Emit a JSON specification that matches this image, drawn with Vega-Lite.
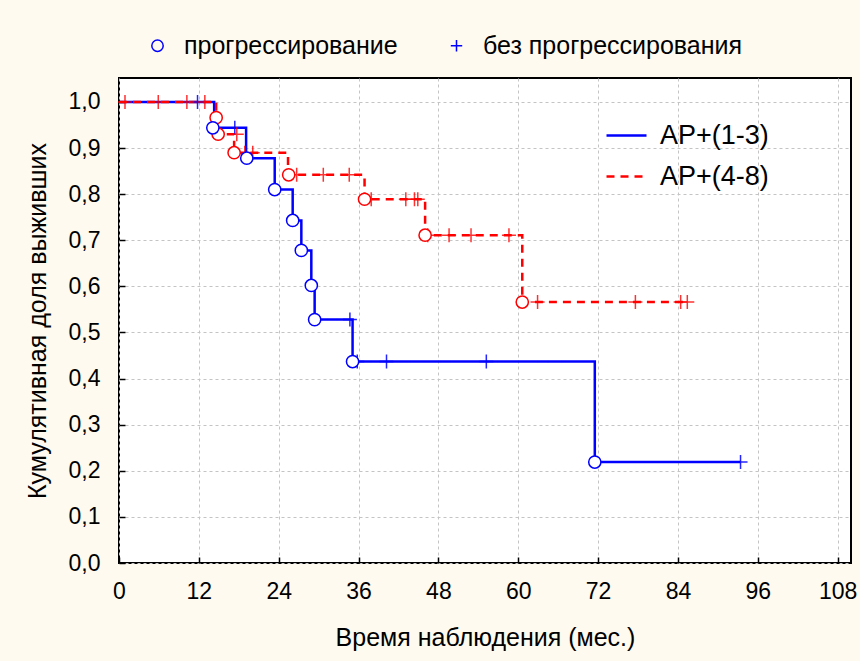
{
  "$schema": "https://vega.github.io/schema/vega-lite/v6.json",
  "width": 732,
  "height": 485,
  "autosize": {"type": "none"},
  "padding": {"left": 119, "top": 78, "right": 9, "bottom": 98},
  "background": "#fefaf0",
  "config": {
    "font": "Liberation Sans",
    "view": {"stroke": "black", "strokeWidth": 2, "fill": "white"},
    "axis": {
      "labelFont": "Liberation Sans",
      "titleFont": "Liberation Sans",
      "labelFontSize": 23,
      "titleFontSize": 25,
      "titleFontWeight": "normal",
      "labelColor": "black",
      "titleColor": "black",
      "domain": false,
      "tickColor": "black",
      "tickSize": -6,
      "tickWidth": 1.5,
      "gridColor": "#c4c4c4",
      "gridDash": [3, 3],
      "gridWidth": 1
    },
    "legend": {
      "labelFont": "Liberation Sans",
      "labelFontSize": 25,
      "labelColor": "black",
      "labelLimit": 500
    }
  },
  "datasets": {
    "curve": [
      {"series": "AP+(1-3)", "t": 0, "s": 1.0},
      {"series": "AP+(1-3)", "t": 14.3, "s": 0.944},
      {"series": "AP+(1-3)", "t": 19.1, "s": 0.878},
      {"series": "AP+(1-3)", "t": 23.4, "s": 0.81},
      {"series": "AP+(1-3)", "t": 26.1, "s": 0.743},
      {"series": "AP+(1-3)", "t": 27.4, "s": 0.678},
      {"series": "AP+(1-3)", "t": 28.9, "s": 0.602},
      {"series": "AP+(1-3)", "t": 29.4, "s": 0.528},
      {"series": "AP+(1-3)", "t": 35.1, "s": 0.437},
      {"series": "AP+(1-3)", "t": 71.5, "s": 0.219},
      {"series": "AP+(1-3)", "t": 93.4, "s": 0.219},
      {"series": "AP+(4-8)", "t": 0, "s": 1.0},
      {"series": "AP+(4-8)", "t": 14.6, "s": 0.966},
      {"series": "AP+(4-8)", "t": 14.9, "s": 0.93},
      {"series": "AP+(4-8)", "t": 17.3, "s": 0.89},
      {"series": "AP+(4-8)", "t": 25.4, "s": 0.842},
      {"series": "AP+(4-8)", "t": 36.9, "s": 0.789},
      {"series": "AP+(4-8)", "t": 46.0, "s": 0.711},
      {"series": "AP+(4-8)", "t": 60.6, "s": 0.566},
      {"series": "AP+(4-8)", "t": 85.4, "s": 0.566}
    ],
    "marks": [
      {"series": "AP+(1-3)", "kind": "прогрессирование", "t": 14.1, "s": 0.944},
      {"series": "AP+(1-3)", "kind": "прогрессирование", "t": 19.2, "s": 0.878},
      {"series": "AP+(1-3)", "kind": "прогрессирование", "t": 23.4, "s": 0.81},
      {"series": "AP+(1-3)", "kind": "прогрессирование", "t": 26.1, "s": 0.743},
      {"series": "AP+(1-3)", "kind": "прогрессирование", "t": 27.4, "s": 0.678},
      {"series": "AP+(1-3)", "kind": "прогрессирование", "t": 28.9, "s": 0.602},
      {"series": "AP+(1-3)", "kind": "прогрессирование", "t": 29.4, "s": 0.528},
      {"series": "AP+(1-3)", "kind": "прогрессирование", "t": 35.1, "s": 0.437},
      {"series": "AP+(1-3)", "kind": "прогрессирование", "t": 71.5, "s": 0.219},
      {"series": "AP+(1-3)", "kind": "без прогрессирования", "t": 11.8, "s": 1.0},
      {"series": "AP+(1-3)", "kind": "без прогрессирования", "t": 17.4, "s": 0.944},
      {"series": "AP+(1-3)", "kind": "без прогрессирования", "t": 34.7, "s": 0.528},
      {"series": "AP+(1-3)", "kind": "без прогрессирования", "t": 35.8, "s": 0.437},
      {"series": "AP+(1-3)", "kind": "без прогрессирования", "t": 40.2, "s": 0.437},
      {"series": "AP+(1-3)", "kind": "без прогрессирования", "t": 55.2, "s": 0.437},
      {"series": "AP+(1-3)", "kind": "без прогрессирования", "t": 93.4, "s": 0.219},
      {"series": "AP+(4-8)", "kind": "прогрессирование", "t": 14.6, "s": 0.966},
      {"series": "AP+(4-8)", "kind": "прогрессирование", "t": 14.9, "s": 0.93},
      {"series": "AP+(4-8)", "kind": "прогрессирование", "t": 17.3, "s": 0.89},
      {"series": "AP+(4-8)", "kind": "прогрессирование", "t": 25.5, "s": 0.842},
      {"series": "AP+(4-8)", "kind": "прогрессирование", "t": 36.9, "s": 0.789},
      {"series": "AP+(4-8)", "kind": "прогрессирование", "t": 46.0, "s": 0.711},
      {"series": "AP+(4-8)", "kind": "прогрессирование", "t": 60.6, "s": 0.566},
      {"series": "AP+(4-8)", "kind": "без прогрессирования", "t": 0.9, "s": 1.0},
      {"series": "AP+(4-8)", "kind": "без прогрессирования", "t": 5.9, "s": 1.0},
      {"series": "AP+(4-8)", "kind": "без прогрессирования", "t": 10.2, "s": 1.0},
      {"series": "AP+(4-8)", "kind": "без прогрессирования", "t": 12.9, "s": 1.0},
      {"series": "AP+(4-8)", "kind": "без прогрессирования", "t": 17.7, "s": 0.93},
      {"series": "AP+(4-8)", "kind": "без прогрессирования", "t": 18.9, "s": 0.89},
      {"series": "AP+(4-8)", "kind": "без прогрессирования", "t": 20.1, "s": 0.89},
      {"series": "AP+(4-8)", "kind": "без прогрессирования", "t": 26.7, "s": 0.842},
      {"series": "AP+(4-8)", "kind": "без прогрессирования", "t": 30.7, "s": 0.842},
      {"series": "AP+(4-8)", "kind": "без прогрессирования", "t": 34.6, "s": 0.842},
      {"series": "AP+(4-8)", "kind": "без прогрессирования", "t": 37.9, "s": 0.789},
      {"series": "AP+(4-8)", "kind": "без прогрессирования", "t": 43.1, "s": 0.789},
      {"series": "AP+(4-8)", "kind": "без прогрессирования", "t": 44.4, "s": 0.789},
      {"series": "AP+(4-8)", "kind": "без прогрессирования", "t": 44.9, "s": 0.789},
      {"series": "AP+(4-8)", "kind": "без прогрессирования", "t": 46.4, "s": 0.711},
      {"series": "AP+(4-8)", "kind": "без прогрессирования", "t": 49.6, "s": 0.711},
      {"series": "AP+(4-8)", "kind": "без прогрессирования", "t": 52.9, "s": 0.711},
      {"series": "AP+(4-8)", "kind": "без прогрессирования", "t": 58.6, "s": 0.711},
      {"series": "AP+(4-8)", "kind": "без прогрессирования", "t": 62.9, "s": 0.566},
      {"series": "AP+(4-8)", "kind": "без прогрессирования", "t": 77.6, "s": 0.566},
      {"series": "AP+(4-8)", "kind": "без прогрессирования", "t": 84.4, "s": 0.566},
      {"series": "AP+(4-8)", "kind": "без прогрессирования", "t": 85.4, "s": 0.566}
    ]
  },
  "encoding": {
    "x": {
      "field": "t",
      "type": "quantitative",
      "scale": {"domain": [0, 110], "nice": false, "zero": false},
      "axis": {
        "values": [0, 12, 24, 36, 48, 60, 72, 84, 96, 108],
        "title": "Время наблюдения (мес.)",
        "labelPadding": 23,
        "titlePadding": 22,
        "labelFlush": false
      }
    },
    "y": {
      "field": "s",
      "type": "quantitative",
      "scale": {"domain": [0, 1.052], "nice": false, "zero": false},
      "axis": {
        "values": [0, 0.1, 0.2, 0.3, 0.4, 0.5, 0.6, 0.7, 0.8, 0.9, 1.0],
        "labelExpr": "replace(format(datum.value, '.1f'), '.', ',')",
        "title": "Кумулятивная доля выживших",
        "labelPadding": 25,
        "titlePadding": 18,
        "labelFlush": false
      }
    }
  },
  "layer": [
    {
      "data": {"name": "curve"},
      "mark": {"type": "line", "interpolate": "step-after", "strokeWidth": 2.5},
      "encoding": {
        "color": {
          "field": "series",
          "type": "nominal",
          "scale": {"domain": ["AP+(1-3)", "AP+(4-8)"], "range": ["#0000ff", "#ff0000"]},
          "legend": {
            "title": null,
            "orient": "none",
            "legendX": 486,
            "legendY": 36,
            "symbolType": "stroke",
            "symbolSize": 1600,
            "symbolStrokeWidth": 2.5,
            "labelFontSize": 27,
            "labelOffset": 12,
            "rowPadding": 6
          }
        },
        "strokeDash": {
          "field": "series",
          "type": "nominal",
          "scale": {"domain": ["AP+(1-3)", "AP+(4-8)"], "range": [[1, 0], [8, 6]]},
          "legend": {
            "title": null,
            "orient": "none",
            "legendX": 486,
            "legendY": 36,
            "symbolType": "stroke",
            "symbolSize": 1600,
            "symbolStrokeWidth": 2.5,
            "labelFontSize": 27,
            "labelOffset": 12,
            "rowPadding": 6
          }
        }
      }
    },
    {
      "data": {"name": "marks"},
      "transform": [{"filter": "datum.kind == 'без прогрессирования' && datum.series == 'AP+(1-3)'"}],
      "mark": {"type": "point", "size": 196, "strokeWidth": 1.5, "opacity": 0.85, "filled": false, "color": "#0000ff"},
      "encoding": {
        "shape": {
          "field": "kind",
          "type": "nominal",
          "scale": {"domain": ["прогрессирование", "без прогрессирования"], "range": ["circle", "M-1,0L1,0M0,-1L0,1"]},
          "legend": {
            "title": null,
            "orient": "none",
            "direction": "horizontal",
            "legendX": 26,
            "legendY": -45,
            "symbolSize": 130,
            "symbolStrokeColor": "#0000ff",
            "symbolStrokeWidth": 1.5,
            "symbolOpacity": 1,
            "labelOffset": 14,
            "columnPadding": 46
          }
        }
      }
    },
    {
      "data": {"name": "marks"},
      "transform": [{"filter": "datum.kind == 'без прогрессирования' && datum.series == 'AP+(4-8)'"}],
      "mark": {"type": "point", "size": 196, "strokeWidth": 1.5, "opacity": 0.8, "filled": false, "color": "#ff0000"},
      "encoding": {
        "shape": {"field": "kind", "type": "nominal"}
      }
    },
    {
      "data": {"name": "marks"},
      "transform": [{"filter": "datum.kind == 'прогрессирование' && datum.series == 'AP+(4-8)'"}],
      "mark": {"type": "point", "size": 150, "strokeWidth": 1.5, "opacity": 1, "stroke": "#ff0000", "fill": "white"},
      "encoding": {
        "shape": {"field": "kind", "type": "nominal"}
      }
    },
    {
      "data": {"name": "marks"},
      "transform": [{"filter": "datum.kind == 'прогрессирование' && datum.series == 'AP+(1-3)'"}],
      "mark": {"type": "point", "size": 150, "strokeWidth": 1.5, "opacity": 1, "stroke": "#0000ff", "fill": "white"},
      "encoding": {
        "shape": {"field": "kind", "type": "nominal"}
      }
    }
  ]
}
